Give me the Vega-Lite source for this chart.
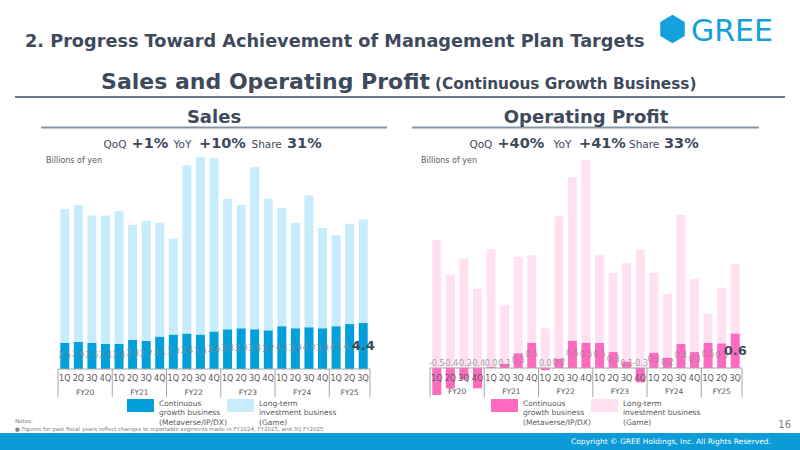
{
  "$schema": "https://vega.github.io/schema/vega-lite/v6.json",
  "width": 800,
  "height": 450,
  "autosize": {"type": "fit", "contains": "padding"},
  "padding": 0,
  "background": "white",
  "config": {"view": {"stroke": null}, "text": {"font": "DejaVu Sans"}, "legend": {"labelFont": "DejaVu Sans"}},
  "datasets": {
    "q": [
      {"i": 0, "fy": "FY20", "q": "1Q", "sales_cont": 2.5, "sales_long": 12.8, "op_cont": -0.49, "op_long": 2.33},
      {"i": 1, "fy": "FY20", "q": "2Q", "sales_cont": 2.6, "sales_long": 13.1, "op_cont": -0.37, "op_long": 1.70},
      {"i": 2, "fy": "FY20", "q": "3Q", "sales_cont": 2.5, "sales_long": 12.2, "op_cont": -0.21, "op_long": 1.98},
      {"i": 3, "fy": "FY20", "q": "4Q", "sales_cont": 2.4, "sales_long": 12.3, "op_cont": -0.37, "op_long": 1.44},
      {"i": 4, "fy": "FY21", "q": "1Q", "sales_cont": 2.4, "sales_long": 12.7, "op_cont": 0.02, "op_long": 2.14},
      {"i": 5, "fy": "FY21", "q": "2Q", "sales_cont": 2.8, "sales_long": 11.0, "op_cont": 0.08, "op_long": 1.07},
      {"i": 6, "fy": "FY21", "q": "3Q", "sales_cont": 2.7, "sales_long": 11.5, "op_cont": 0.27, "op_long": 1.75},
      {"i": 7, "fy": "FY21", "q": "4Q", "sales_cont": 3.1, "sales_long": 10.9, "op_cont": 0.46, "op_long": 1.59},
      {"i": 8, "fy": "FY22", "q": "1Q", "sales_cont": 3.3, "sales_long": 9.2, "op_cont": -0.04, "op_long": 0.72},
      {"i": 9, "fy": "FY22", "q": "2Q", "sales_cont": 3.4, "sales_long": 16.1, "op_cont": 0.17, "op_long": 2.59},
      {"i": 10, "fy": "FY22", "q": "3Q", "sales_cont": 3.3, "sales_long": 17.0, "op_cont": 0.50, "op_long": 2.97},
      {"i": 11, "fy": "FY22", "q": "4Q", "sales_cont": 3.6, "sales_long": 16.6, "op_cont": 0.46, "op_long": 3.32},
      {"i": 12, "fy": "FY23", "q": "1Q", "sales_cont": 3.8, "sales_long": 12.5, "op_cont": 0.46, "op_long": 1.59},
      {"i": 13, "fy": "FY23", "q": "2Q", "sales_cont": 3.9, "sales_long": 11.8, "op_cont": 0.29, "op_long": 1.44},
      {"i": 14, "fy": "FY23", "q": "3Q", "sales_cont": 3.8, "sales_long": 15.5, "op_cont": 0.12, "op_long": 1.79},
      {"i": 15, "fy": "FY23", "q": "4Q", "sales_cont": 3.7, "sales_long": 12.6, "op_cont": -0.26, "op_long": 2.15},
      {"i": 16, "fy": "FY24", "q": "1Q", "sales_cont": 4.1, "sales_long": 11.3, "op_cont": 0.28, "op_long": 1.45},
      {"i": 17, "fy": "FY24", "q": "2Q", "sales_cont": 3.9, "sales_long": 10.1, "op_cont": 0.19, "op_long": 1.16},
      {"i": 18, "fy": "FY24", "q": "3Q", "sales_cont": 4.0, "sales_long": 12.6, "op_cont": 0.44, "op_long": 2.34},
      {"i": 19, "fy": "FY24", "q": "4Q", "sales_cont": 3.9, "sales_long": 9.6, "op_cont": 0.29, "op_long": 1.33},
      {"i": 20, "fy": "FY25", "q": "1Q", "sales_cont": 4.1, "sales_long": 8.7, "op_cont": 0.46, "op_long": 0.53},
      {"i": 21, "fy": "FY25", "q": "2Q", "sales_cont": 4.3, "sales_long": 9.6, "op_cont": 0.45, "op_long": 1.00},
      {"i": 22, "fy": "FY25", "q": "3Q", "sales_cont": 4.4, "sales_long": 9.9, "op_cont": 0.63, "op_long": 1.26}
    ]
  },
  "layer": [
    {
      "data": {"values": [{}]},
      "layer": [
        {"mark": {"type": "rect", "color": "#0b9bd7"},
         "encoding": {"x": {"datum": 0, "type": "quantitative", "scale": {"domain": [0, 800], "range": [0, 800], "nice": false, "zero": false}, "axis": null}, "x2": {"datum": 800},
                      "y": {"datum": 433, "type": "quantitative", "scale": {"domain": [0, 450], "range": [0, 450], "nice": false, "zero": false}, "axis": null}, "y2": {"datum": 450}}},
        {"mark": {"type": "rule", "color": "#3e4a5c", "strokeWidth": 1.5},
         "encoding": {"x": {"datum": 15, "type": "quantitative"}, "x2": {"datum": 785}, "y": {"datum": 97, "type": "quantitative"}}},
        {"mark": {"type": "rule", "color": "#8593a6", "strokeWidth": 2},
         "encoding": {"x": {"datum": 41, "type": "quantitative"}, "x2": {"datum": 387}, "y": {"datum": 127.5, "type": "quantitative"}}},
        {"mark": {"type": "rule", "color": "#8593a6", "strokeWidth": 2},
         "encoding": {"x": {"datum": 412, "type": "quantitative"}, "x2": {"datum": 759}, "y": {"datum": 127.5, "type": "quantitative"}}},
        {"mark": {"type": "point", "shape": "M0,-1L0.866,-0.5L0.866,0.5L0,1L-0.866,0.5L-0.866,-0.5Z", "filled": true, "color": "#14a0dc", "opacity": 1, "size": 800},
         "encoding": {"x": {"datum": 672.5, "type": "quantitative"}, "y": {"datum": 29, "type": "quantitative"}}},
        {"mark": {"type": "text", "text": "GREE", "fontSize": 30, "fontWeight": "normal", "color": "#14a0dc", "align": "left", "baseline": "alphabetic"},
         "encoding": {"x": {"datum": 691, "type": "quantitative"}, "y": {"datum": 41, "type": "quantitative"}}},
        {"mark": {"type": "text", "text": "2. Progress Toward Achievement of Management Plan Targets", "fontSize": 17.7, "fontWeight": "bold", "color": "#3e4a5c", "align": "left", "baseline": "alphabetic"},
         "encoding": {"x": {"datum": 25, "type": "quantitative"}, "y": {"datum": 47, "type": "quantitative"}}},
        {"mark": {"type": "text", "text": "Sales and Operating Profit", "fontSize": 22, "fontWeight": "bold", "color": "#3e4a5c", "align": "right", "baseline": "alphabetic"},
         "encoding": {"x": {"datum": 430, "type": "quantitative"}, "y": {"datum": 89, "type": "quantitative"}}},
        {"mark": {"type": "text", "text": "(Continuous Growth Business)", "fontSize": 15.3, "fontWeight": "bold", "color": "#3e4a5c", "align": "left", "baseline": "alphabetic"},
         "encoding": {"x": {"datum": 435, "type": "quantitative"}, "y": {"datum": 89, "type": "quantitative"}}},
        {"mark": {"type": "text", "text": "Sales", "fontSize": 18, "fontWeight": "bold", "color": "#3e4a5c", "align": "center", "baseline": "alphabetic"},
         "encoding": {"x": {"datum": 214, "type": "quantitative"}, "y": {"datum": 123, "type": "quantitative"}}},
        {"mark": {"type": "text", "text": "Operating Profit", "fontSize": 18, "fontWeight": "bold", "color": "#3e4a5c", "align": "center", "baseline": "alphabetic"},
         "encoding": {"x": {"datum": 586, "type": "quantitative"}, "y": {"datum": 123, "type": "quantitative"}}},
        {"mark": {"type": "text", "text": "QoQ", "fontSize": 10.5, "color": "#3e4a5c", "align": "left", "baseline": "alphabetic"},
         "encoding": {"x": {"datum": 103.6, "type": "quantitative"}, "y": {"datum": 148, "type": "quantitative"}}},
        {"mark": {"type": "text", "text": "+1%", "fontSize": 14.5, "fontWeight": "bold", "color": "#3e4a5c", "align": "left", "baseline": "alphabetic"},
         "encoding": {"x": {"datum": 131.6, "type": "quantitative"}, "y": {"datum": 148, "type": "quantitative"}}},
        {"mark": {"type": "text", "text": "YoY", "fontSize": 10.5, "color": "#3e4a5c", "align": "left", "baseline": "alphabetic"},
         "encoding": {"x": {"datum": 173.5, "type": "quantitative"}, "y": {"datum": 148, "type": "quantitative"}}},
        {"mark": {"type": "text", "text": "+10%", "fontSize": 14.5, "fontWeight": "bold", "color": "#3e4a5c", "align": "left", "baseline": "alphabetic"},
         "encoding": {"x": {"datum": 199, "type": "quantitative"}, "y": {"datum": 148, "type": "quantitative"}}},
        {"mark": {"type": "text", "text": "Share", "fontSize": 10.5, "color": "#3e4a5c", "align": "left", "baseline": "alphabetic"},
         "encoding": {"x": {"datum": 251.5, "type": "quantitative"}, "y": {"datum": 148, "type": "quantitative"}}},
        {"mark": {"type": "text", "text": "31%", "fontSize": 14.5, "fontWeight": "bold", "color": "#3e4a5c", "align": "left", "baseline": "alphabetic"},
         "encoding": {"x": {"datum": 287, "type": "quantitative"}, "y": {"datum": 148, "type": "quantitative"}}},
        {"mark": {"type": "text", "text": "QoQ", "fontSize": 10.5, "color": "#3e4a5c", "align": "left", "baseline": "alphabetic"},
         "encoding": {"x": {"datum": 469.4, "type": "quantitative"}, "y": {"datum": 148, "type": "quantitative"}}},
        {"mark": {"type": "text", "text": "+40%", "fontSize": 14.5, "fontWeight": "bold", "color": "#3e4a5c", "align": "left", "baseline": "alphabetic"},
         "encoding": {"x": {"datum": 497.4, "type": "quantitative"}, "y": {"datum": 148, "type": "quantitative"}}},
        {"mark": {"type": "text", "text": "YoY", "fontSize": 10.5, "color": "#3e4a5c", "align": "left", "baseline": "alphabetic"},
         "encoding": {"x": {"datum": 553.6, "type": "quantitative"}, "y": {"datum": 148, "type": "quantitative"}}},
        {"mark": {"type": "text", "text": "+41%", "fontSize": 14.5, "fontWeight": "bold", "color": "#3e4a5c", "align": "left", "baseline": "alphabetic"},
         "encoding": {"x": {"datum": 579, "type": "quantitative"}, "y": {"datum": 148, "type": "quantitative"}}},
        {"mark": {"type": "text", "text": "Share", "fontSize": 10.5, "color": "#3e4a5c", "align": "left", "baseline": "alphabetic"},
         "encoding": {"x": {"datum": 629, "type": "quantitative"}, "y": {"datum": 148, "type": "quantitative"}}},
        {"mark": {"type": "text", "text": "33%", "fontSize": 14.5, "fontWeight": "bold", "color": "#3e4a5c", "align": "left", "baseline": "alphabetic"},
         "encoding": {"x": {"datum": 664, "type": "quantitative"}, "y": {"datum": 148, "type": "quantitative"}}},
        {"mark": {"type": "text", "text": "Billions of yen", "fontSize": 8, "color": "#595959", "align": "left", "baseline": "middle"},
         "encoding": {"x": {"datum": 46, "type": "quantitative"}, "y": {"datum": 161, "type": "quantitative"}}},
        {"mark": {"type": "text", "text": "Billions of yen", "fontSize": 8, "color": "#595959", "align": "left", "baseline": "middle"},
         "encoding": {"x": {"datum": 421, "type": "quantitative"}, "y": {"datum": 161, "type": "quantitative"}}},
        {"mark": {"type": "text", "text": "Notes:", "fontSize": 5.5, "color": "#808080", "align": "left", "baseline": "middle"},
         "encoding": {"x": {"datum": 15, "type": "quantitative"}, "y": {"datum": 421, "type": "quantitative"}}},
        {"mark": {"type": "text", "text": "\u25cf  Figures for past fiscal years reflect changes to reportable segments made in FY2024, FY2025, and 3Q FY2025", "fontSize": 5.5, "color": "#808080", "align": "left", "baseline": "middle"},
         "encoding": {"x": {"datum": 15, "type": "quantitative"}, "y": {"datum": 429, "type": "quantitative"}}},
        {"mark": {"type": "text", "text": "16", "fontSize": 10, "color": "#7f7f7f", "align": "right", "baseline": "middle"},
         "encoding": {"x": {"datum": 791, "type": "quantitative"}, "y": {"datum": 425, "type": "quantitative"}}},
        {"mark": {"type": "text", "text": "Copyright \u00a9 GREE Holdings, Inc. All Rights Reserved.", "fontSize": 7.5, "color": "white", "align": "right", "baseline": "middle"},
         "encoding": {"x": {"datum": 771, "type": "quantitative"}, "y": {"datum": 442, "type": "quantitative"}}}
      ]
    },
    {
      "data": {"name": "q"},
      "layer": [
        {
          "transform": [{"fold": ["sales_cont", "sales_long"], "as": ["seg", "v"]}],
          "mark": {"type": "bar", "width": 9},
          "encoding": {
            "x": {"field": "i", "type": "quantitative", "scale": {"domain": [-0.5, 22.5], "range": [53, 375], "nice": false, "zero": false}, "axis": null},
            "y": {"field": "v", "type": "quantitative", "stack": "zero", "scale": {"domain": [-3, 20.5], "range": [400.35, 154.8], "nice": false, "zero": false}, "axis": null},
            "color": {"field": "seg", "type": "nominal",
                      "scale": {"domain": ["sales_cont", "sales_long"], "range": ["#039fdb", "#c7edfc"]},
                      "legend": {"orient": "none", "legendX": 127, "legendY": 392, "direction": "horizontal", "title": null, "padding": 0,
                                 "symbolType": "M-1,-0.48H1V0.48H-1Z", "symbolSize": 729, "symbolStrokeWidth": 0, "symbolOpacity": 1,
                                 "labelExpr": "datum.value == 'sales_cont' ? ['Continuous', 'growth business', '(Metaverse/IP/DX)'] : ['Long-term', 'investment business', '(Game)']",
                                 "labelFontSize": 7.5, "labelColor": "#595959", "labelOffset": 5, "labelLimit": 200, "columnPadding": 0, "labelBaseline": "alphabetic"}},
            "order": {"field": "seg", "sort": "ascending"}
          }
        },
        {
          "data": {"values": [{}]},
          "mark": {"type": "rule", "color": "#a6a6a6", "strokeWidth": 1},
          "encoding": {"x": {"datum": -0.5, "type": "quantitative"}, "x2": {"datum": 22.5}, "y": {"datum": 0, "type": "quantitative"}}
        },
        {
          "transform": [
            {"filter": "datum.q == '1Q' || datum.i == 22"},
            {"calculate": "datum.q == '1Q' ? datum.i - 0.5 : datum.i + 0.5", "as": "b"}
          ],
          "mark": {"type": "rule", "color": "#a6a6a6", "strokeWidth": 1},
          "encoding": {"x": {"field": "b", "type": "quantitative"}, "y": {"datum": 0, "type": "quantitative"}, "y2": {"datum": -2.68}}
        },
        {
          "mark": {"type": "text", "fontSize": 8, "color": "#595959", "baseline": "middle"},
          "encoding": {"x": {"field": "i", "type": "quantitative"}, "y": {"datum": -1.0, "type": "quantitative"}, "text": {"field": "q"}}
        },
        {
          "transform": [{"aggregate": [{"op": "mean", "field": "i", "as": "mi"}], "groupby": ["fy"]}],
          "mark": {"type": "text", "fontSize": 7.5, "color": "#595959", "baseline": "middle"},
          "encoding": {"x": {"field": "mi", "type": "quantitative"}, "y": {"datum": -2.25, "type": "quantitative"}, "text": {"field": "fy"}}
        },
        {
          "transform": [
            {"filter": "datum.i < 22"},
            {"calculate": "datum.sales_cont / 2", "as": "mid"}
          ],
          "mark": {"type": "text", "fontSize": 8, "color": "#8a8a8a", "opacity": 0.8, "baseline": "middle"},
          "encoding": {"x": {"field": "i", "type": "quantitative"}, "y": {"field": "mid", "type": "quantitative"}, "text": {"field": "sales_cont", "format": ".1f"}}
        },
        {
          "transform": [
            {"filter": "datum.i == 22"},
            {"calculate": "datum.sales_cont / 2", "as": "mid"}
          ],
          "mark": {"type": "text", "fontSize": 13, "fontWeight": "bold", "color": "#3e4a5c", "baseline": "middle"},
          "encoding": {"x": {"field": "i", "type": "quantitative"}, "y": {"field": "mid", "type": "quantitative"}, "text": {"field": "sales_cont", "format": ".1f"}}
        }
      ]
    },
    {
      "data": {"name": "q"},
      "layer": [
        {
          "transform": [{"fold": ["op_cont", "op_long"], "as": ["seg", "v"]}],
          "mark": {"type": "bar", "width": 9},
          "encoding": {
            "x": {"field": "i", "type": "quantitative", "scale": {"domain": [-0.5, 22.5], "range": [425, 747], "nice": false, "zero": false}, "axis": null},
            "y": {"field": "v", "type": "quantitative", "stack": "zero", "scale": {"domain": [-0.6, 3.9], "range": [401, 153.5], "nice": false, "zero": false}, "axis": null},
            "color": {"field": "seg", "type": "nominal",
                      "scale": {"domain": ["op_cont", "op_long"], "range": ["#ff6ac1", "#ffe1f2"]},
                      "legend": {"orient": "none", "legendX": 491, "legendY": 392, "direction": "horizontal", "title": null, "padding": 0,
                                 "symbolType": "M-1,-0.48H1V0.48H-1Z", "symbolSize": 729, "symbolStrokeWidth": 0, "symbolOpacity": 1,
                                 "labelExpr": "datum.value == 'op_cont' ? ['Continuous', 'growth business', '(Metaverse/IP/DX)'] : ['Long-term', 'investment business', '(Game)']",
                                 "labelFontSize": 7.5, "labelColor": "#595959", "labelOffset": 5, "labelLimit": 200, "columnPadding": 0, "labelBaseline": "alphabetic"}},
            "order": {"field": "seg", "sort": "ascending"}
          }
        },
        {
          "data": {"values": [{}]},
          "mark": {"type": "rule", "color": "#a6a6a6", "strokeWidth": 1},
          "encoding": {"x": {"datum": -0.5, "type": "quantitative"}, "x2": {"datum": 22.5}, "y": {"datum": 0, "type": "quantitative"}}
        },
        {
          "transform": [
            {"filter": "datum.q == '1Q' || datum.i == 22"},
            {"calculate": "datum.q == '1Q' ? datum.i - 0.5 : datum.i + 0.5", "as": "b"}
          ],
          "mark": {"type": "rule", "color": "#a6a6a6", "strokeWidth": 1},
          "encoding": {"x": {"field": "b", "type": "quantitative"}, "y": {"datum": 0, "type": "quantitative"}, "y2": {"datum": -0.527}}
        },
        {
          "mark": {"type": "text", "fontSize": 8, "color": "#595959", "baseline": "middle"},
          "encoding": {"x": {"field": "i", "type": "quantitative"}, "y": {"datum": -0.2, "type": "quantitative"}, "text": {"field": "q"}}
        },
        {
          "transform": [{"aggregate": [{"op": "mean", "field": "i", "as": "mi"}], "groupby": ["fy"]}],
          "mark": {"type": "text", "fontSize": 7.5, "color": "#595959", "baseline": "middle"},
          "encoding": {"x": {"field": "mi", "type": "quantitative"}, "y": {"datum": -0.436, "type": "quantitative"}, "text": {"field": "fy"}}
        },
        {
          "transform": [
            {"filter": "datum.i < 22"},
            {"calculate": "max(datum.op_cont / 2, 0.07)", "as": "mid"},
            {"calculate": "replace(format(datum.op_cont, '.1f'), '\u2212', '-')", "as": "lab"}
          ],
          "mark": {"type": "text", "fontSize": 8, "color": "#8a8a8a", "opacity": 0.8, "baseline": "middle"},
          "encoding": {"x": {"field": "i", "type": "quantitative"}, "y": {"field": "mid", "type": "quantitative"}, "text": {"field": "lab"}}
        },
        {
          "transform": [
            {"filter": "datum.i == 22"},
            {"calculate": "datum.op_cont / 2", "as": "mid"}
          ],
          "mark": {"type": "text", "fontSize": 13, "fontWeight": "bold", "color": "#3e4a5c", "baseline": "middle"},
          "encoding": {"x": {"field": "i", "type": "quantitative"}, "y": {"field": "mid", "type": "quantitative"}, "text": {"field": "op_cont", "format": ".1f"}}
        }
      ]
    }
  ],
  "resolve": {"scale": {"x": "independent", "y": "independent", "color": "independent"}}
}
